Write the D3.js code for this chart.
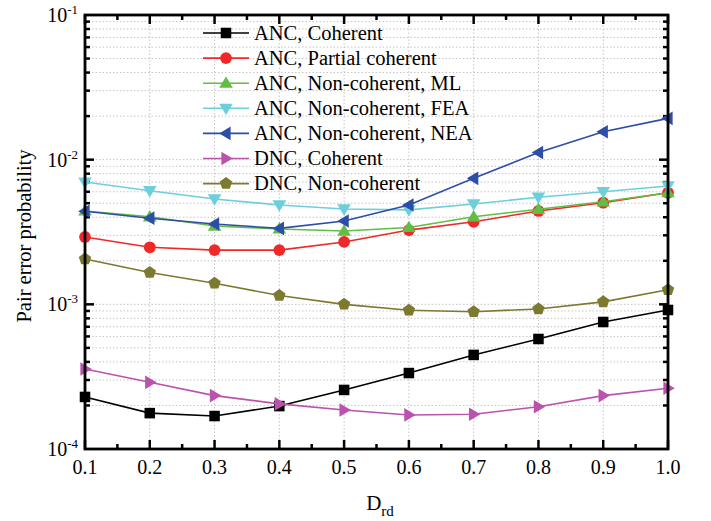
<!DOCTYPE html>
<html><head><meta charset="utf-8">
<script src="https://cdn.jsdelivr.net/npm/d3@7"></script>
<style>body{margin:0;background:#fff}text{font-family:"Liberation Serif","Times New Roman",serif}</style>
</head><body><svg id="c" width="711" height="521"></svg>
<script>
const xValues = [0.1,0.2,0.3,0.4,0.5,0.6,0.7,0.8,0.9,1.0];
const ancCoherent = [2.29e-4,1.77e-4,1.69e-4,1.98e-4,2.56e-4,3.35e-4,4.47e-4,5.76e-4,7.55e-4,9.14e-4];
const ancPartial = [2.92e-3,2.48e-3,2.37e-3,2.37e-3,2.70e-3,3.26e-3,3.72e-3,4.42e-3,5.04e-3,5.91e-3];
const ancNcML = [4.42e-3,4.03e-3,3.48e-3,3.32e-3,3.21e-3,3.40e-3,4.03e-3,4.54e-3,5.12e-3,5.91e-3];
const ancNcFEA = [7.0e-3,6.1e-3,5.35e-3,4.86e-3,4.56e-3,4.5e-3,4.94e-3,5.5e-3,6.0e-3,6.58e-3];
const ancNcNEA = [4.4e-3,3.94e-3,3.59e-3,3.35e-3,3.77e-3,4.86e-3,7.43e-3,1.12e-2,1.56e-2,1.93e-2];
const dncCoherent = [3.57e-4,2.89e-4,2.34e-4,2.05e-4,1.86e-4,1.72e-4,1.74e-4,1.96e-4,2.34e-4,2.63e-4];
const dncNc = [2.06e-3,1.66e-3,1.40e-3,1.15e-3,1.0e-3,9.1e-4,8.89e-4,9.29e-4,1.04e-3,1.26e-3];
const seriesNames = ["ANC, Coherent","ANC, Partial coherent","ANC, Non-coherent, ML","ANC, Non-coherent, FEA","ANC, Non-coherent, NEA","DNC, Coherent","DNC, Non-coherent"];
const xTickLabels = ["0.1","0.2","0.3","0.4","0.5","0.6","0.7","0.8","0.9","1.0"];
const yTickExps = [-4,-3,-2,-1];

const seriesData = [ancCoherent,ancPartial,ancNcML,ancNcFEA,ancNcNEA,dncCoherent,dncNc];
const colors = ["#000000","#f02828","#62bd44","#6dcfdc","#2c4ea6","#bb52ad","#7c7a30"];
const shapes = ["square","circle","triUp","triDown","triLeft","triRight","pent"];
const FF = "Liberation Serif, Times New Roman, serif";

const svg = d3.select("#c");
const L=85,R=668,T=15,B=449;
const x = d3.scaleLinear().domain([0.1,1.0]).range([L,R]);
const y = d3.scaleLog().domain([1e-4,1e-1]).range([B,T]);

// grid
const minorY=[];
for(let e=-4;e<-1;e++) for(let m=1;m<=9;m++){ if(m===1&&e===-4) continue; minorY.push(m*Math.pow(10,e)); }
const g = svg.append("g");
g.selectAll(".gy").data(minorY).enter().append("line")
 .attr("x1",L).attr("x2",R).attr("y1",d=>y(d)).attr("y2",d=>y(d))
 .attr("stroke","#c4c4c4").attr("stroke-width",1).attr("stroke-dasharray","1.5,2");
g.selectAll(".gx").data(xValues.slice(1,-1)).enter().append("line")
 .attr("y1",T).attr("y2",B).attr("x1",d=>x(d)).attr("x2",d=>x(d))
 .attr("stroke","#c4c4c4").attr("stroke-width",1).attr("stroke-dasharray","1.5,2");

// ticks
const tk = svg.append("g").attr("stroke","#000").attr("stroke-width",2.5);
const minorX = d3.range(0,9).map(i=>0.15+i*0.1);
xValues.forEach(v=>{
  tk.append("line").attr("x1",x(v)).attr("x2",x(v)).attr("y1",B).attr("y2",B-9);
  tk.append("line").attr("x1",x(v)).attr("x2",x(v)).attr("y1",T).attr("y2",T+9);
});
minorX.forEach(v=>{
  tk.append("line").attr("x1",x(v)).attr("x2",x(v)).attr("y1",B).attr("y2",B-5);
  tk.append("line").attr("x1",x(v)).attr("x2",x(v)).attr("y1",T).attr("y2",T+5);
});
minorY.forEach(v=>{
  const len = (Math.abs(Math.log10(v)-Math.round(Math.log10(v)))<1e-9)?9:5;
  tk.append("line").attr("x1",L).attr("x2",L+len).attr("y1",y(v)).attr("y2",y(v));
  tk.append("line").attr("x1",R).attr("x2",R-len).attr("y1",y(v)).attr("y2",y(v));
});

// series
const line = d3.line().x((d,i)=>x(xValues[i])).y(d=>y(d));
function marker(sel,shape,color,r){
  let p;
  if(shape==="square") p=`M${-r*0.85},${-r*0.85}H${r*0.85}V${r*0.85}H${-r*0.85}Z`;
  else if(shape==="circle") { sel.append("circle").attr("r",r*0.95).attr("fill",color); return; }
  else if(shape==="triUp") p=`M0,${-r*1.1}L${r*1.1},${r*0.75}L${-r*1.1},${r*0.75}Z`;
  else if(shape==="triDown") p=`M0,${r*1.1}L${r*1.1},${-r*0.75}L${-r*1.1},${-r*0.75}Z`;
  else if(shape==="triLeft") p=`M${-r*1.1},0L${r*0.75},${r*1.1}L${r*0.75},${-r*1.1}Z`;
  else if(shape==="triRight") p=`M${r*1.1},0L${-r*0.75},${r*1.1}L${-r*0.75},${-r*1.1}Z`;
  else if(shape==="pent"){ const pts=d3.range(5).map(k=>{const a=-Math.PI/2+k*2*Math.PI/5;return [r*1.05*Math.cos(a),r*1.05*Math.sin(a)];}); p="M"+pts.join("L")+"Z"; }
  sel.append("path").attr("d",p).attr("fill",color);
}
seriesData.forEach((data,si)=>{
  svg.append("path").datum(data).attr("d",line).attr("fill","none").attr("stroke",colors[si]).attr("stroke-width",1.6);
  data.forEach((v,i)=>{
    const m=svg.append("g").attr("transform",`translate(${x(xValues[i])},${y(v)})`);
    marker(m,shapes[si],colors[si],6.2);
  });
});

// frame
svg.append("rect").attr("x",L).attr("y",T).attr("width",R-L).attr("height",B-T)
 .attr("fill","none").attr("stroke","#000").attr("stroke-width",2.8);

// tick labels
svg.selectAll(".xl").data(xValues).enter().append("text")
 .attr("font-family",FF)
 .attr("x",d=>x(d)).attr("y",474).attr("text-anchor","middle").attr("font-size",20).text((d,i)=>xTickLabels[i]);
yTickExps.forEach(e=>{
  const t=svg.append("text").attr("font-family",FF).attr("x",78).attr("y",y(Math.pow(10,e))+7).attr("text-anchor","end").attr("font-size",20);
  t.append("tspan").text("10");
  t.append("tspan").attr("dy",-8).attr("font-size",13).text(String(e));
});

// axis titles
svg.append("text").attr("font-family",FF).attr("transform","translate(31,236) rotate(-90)").attr("text-anchor","middle").attr("font-size",20.5).text("Pair error probability");
const xt=svg.append("text").attr("font-family",FF).attr("x",380).attr("y",510).attr("text-anchor","middle").attr("font-size",21);
xt.append("tspan").text("D");
xt.append("tspan").attr("dy",6).attr("font-size",15).text("rd");

// legend
const ly0=33, ldy=25.1;
seriesNames.forEach((n,i)=>{
  const gy=ly0+i*ldy;
  svg.append("line").attr("x1",203).attr("x2",249).attr("y1",gy).attr("y2",gy).attr("stroke",colors[i]).attr("stroke-width",1.6);
  const m=svg.append("g").attr("transform",`translate(226,${gy})`);
  marker(m,shapes[i],colors[i],6.2);
  svg.append("text").attr("font-family",FF).attr("x",254).attr("y",gy+6.8).attr("font-size",20.5).text(n);
});
</script></body></html>
